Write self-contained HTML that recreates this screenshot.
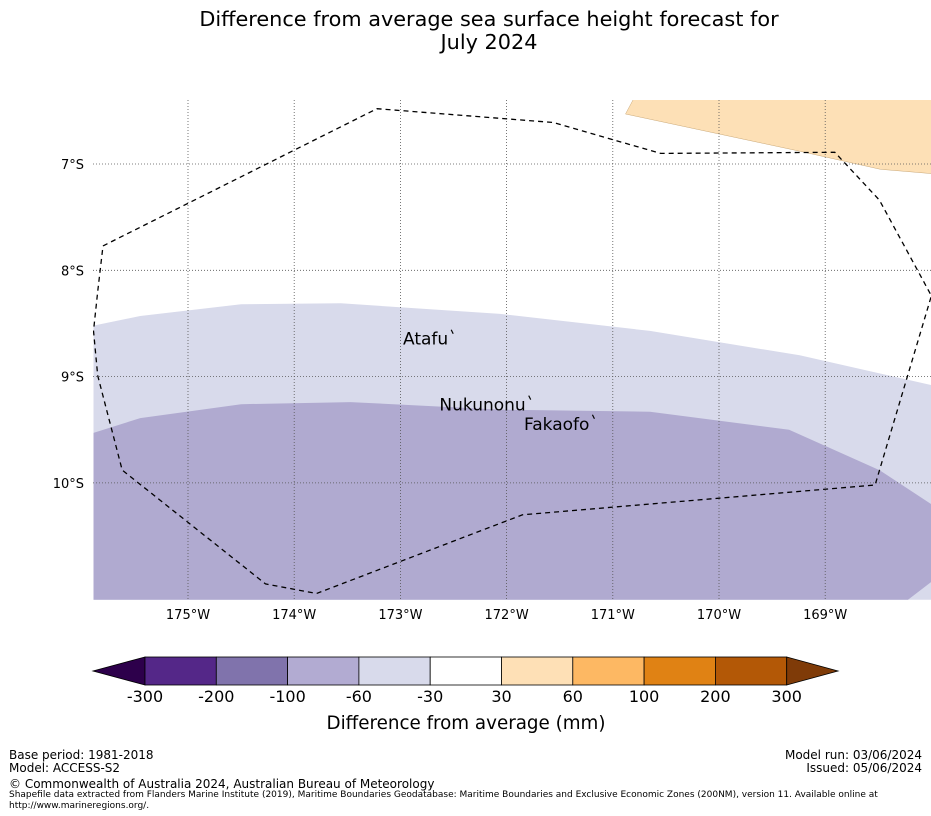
<!DOCTYPE html>
<html><head><meta charset="utf-8"><style>
body{margin:0;width:931px;height:816px;background:#fff;font-family:"Liberation Sans","DejaVu Sans",sans-serif;overflow:hidden;position:relative}
.t{position:absolute;white-space:nowrap;color:#000}
</style></head><body>
<div class="t" style="left:0;width:978px;top:8px;text-align:center;font-family:'DejaVu Sans',sans-serif;font-size:20.8px;line-height:23px">Difference from average sea surface height forecast for<br>July 2024</div>
<svg id="map" width="931" height="816" style="position:absolute;left:0;top:0" font-family="DejaVu Sans, sans-serif"></svg>
<div class="t" style="left:9px;top:748px;font-size:12px;font-family:'DejaVu Sans',sans-serif">Base period: 1981-2018</div>
<div class="t" style="left:9px;top:761px;font-size:12px;font-family:'DejaVu Sans',sans-serif">Model: ACCESS-S2</div>
<div class="t" style="right:9px;top:748px;font-size:12px;font-family:'DejaVu Sans',sans-serif;text-align:right">Model run: 03/06/2024</div>
<div class="t" style="right:9px;top:761px;font-size:12px;font-family:'DejaVu Sans',sans-serif;text-align:right">Issued: 05/06/2024</div>
<div class="t" style="left:9px;top:777px;font-size:12px;font-family:'DejaVu Sans',sans-serif">© Commonwealth of Australia 2024, Australian Bureau of Meteorology</div>
<div class="t" style="left:9px;top:790px;font-size:9px;line-height:11px;font-family:'DejaVu Sans',sans-serif">Shapefile data extracted from Flanders Marine Institute (2019), Maritime Boundaries Geodatabase: Maritime Boundaries and Exclusive Economic Zones (200NM), version 11. Available online at<br>http://www.marineregions.org/.</div>
<script>
const lonTicks=[-175,-174,-173,-172,-171,-170,-169];
const latTicks=[-7,-8,-9,-10];
const eezLon=[-175.8,-173.22,-171.56,-170.55,-168.91,-168.49,-168.0,-168.53,-171.85,-173.79,-174.27,-175.62,-175.85,-175.89,-175.85,-175.8];
const eezLat=[-7.77,-6.48,-6.61,-6.9,-6.89,-7.34,-8.24,-10.02,-10.3,-11.04,-10.95,-9.88,-8.99,-8.57,-8.2,-7.77];
const lightLon=[-175.89,-175.45,-174.5,-173.56,-172.06,-170.65,-169.24,-168.0,-168.0,-175.89];
const lightLat=[-8.52,-8.43,-8.32,-8.31,-8.41,-8.57,-8.8,-9.08,-11.1,-11.1];
const darkLon=[-175.89,-175.45,-174.5,-173.47,-172.06,-170.65,-169.34,-168.49,-168.0,-168.0,-168.22,-175.89];
const darkLat=[-9.53,-9.39,-9.26,-9.24,-9.31,-9.33,-9.5,-9.88,-10.2,-10.93,-11.1,-11.1];
const orangeLon=[-170.88,-170.8,-168.0,-168.0,-168.48,-169.24,-170.88];
const orangeLat=[-6.53,-6.38,-6.38,-7.09,-7.05,-6.88,-6.53];
const places=["Atafu","Nukunonu","Fakaofo"];
const placeLon=[-172.55,-171.82,-171.22];
const placeLat=[-8.70,-9.32,-9.50];
const cbLabels=["-300","-200","-100","-60","-30","30","60","100","200","300"];
const cbColors=["#542788","#8073ac","#b2abd2","#d8daeb","#ffffff","#fee0b6","#fdb863","#e08214","#b35806"];
const X=lon=>188+(lon+175)*106.2, Y=lat=>164+(-7-lat)*106.3;
const svg=document.getElementById('map'),NS="http://www.w3.org/2000/svg";
function mk(t,a,p){const e=document.createElementNS(NS,t);for(const k in a)e.setAttribute(k,a[k]);(p||svg).appendChild(e);return e;}
const pts=(lo,la)=>lo.map((v,i)=>X(v).toFixed(1)+","+Y(la[i]).toFixed(1)).join(" ");
const cp=mk('clipPath',{id:'c'});
mk('rect',{x:93,y:100,width:838,height:500},cp);
const g=mk('g',{'clip-path':'url(#c)'});
let e=mk('polygon',{points:pts(lightLon,lightLat),fill:'#d8daeb'},g);


e=mk('polygon',{points:pts(darkLon,darkLat),fill:'#b0aad0'},g);


e=mk('polygon',{points:pts(orangeLon,orangeLat),fill:'#fde0b6',stroke:'#c9a878','stroke-width':0.5},g);


lonTicks.forEach(l=>{const x=X(l);
 e=mk('line',{x1:x,x2:x,y1:100,y2:600,stroke:'#555','stroke-width':0.8,'stroke-dasharray':'1,2'},g);
 
 
 e=mk('text',{x:x,y:619,'text-anchor':'middle','font-size':13});e.textContent=Math.abs(l)+"°W";
 
 });
latTicks.forEach(l=>{const y=Y(l);
 e=mk('line',{x1:93,x2:931,y1:y,y2:y,stroke:'#555','stroke-width':0.8,'stroke-dasharray':'1,2'},g);
 
 
 e=mk('text',{x:84,y:y+5,'text-anchor':'end','font-size':13});e.textContent=Math.abs(l)+"°S";
 
 });
e=mk('polyline',{points:pts(eezLon,eezLat),fill:'none',stroke:'#000','stroke-width':1.3,'stroke-dasharray':'5,4'},g);


places.forEach((p,i)=>{const x=X(placeLon[i]),y=Y(placeLat[i]);
 e=mk('text',{x:x,y:y,'text-anchor':'end','font-size':17});e.textContent=p;
 
 
 mk('line',{x1:x+3,y1:y-15,x2:x+5,y2:y-11,stroke:'#000','stroke-width':1.2});});
const cx0=145,cw=71.3,cy=657,ch=28;
e=mk('polygon',{points:`${cx0},${cy} 93,${cy+ch/2} ${cx0},${cy+ch}`,fill:'#2d004b',stroke:'#000','stroke-width':0.8});


cbColors.forEach((c,i)=>{e=mk('rect',{x:cx0+i*cw,y:cy,width:cw,height:ch,fill:c,stroke:'#000','stroke-width':0.8});
 
 });
const ce=cx0+cbColors.length*cw;
e=mk('polygon',{points:`${ce},${cy} 838,${cy+ch/2} ${ce},${cy+ch}`,fill:'#7f3b08',stroke:'#000','stroke-width':0.8});


cbLabels.forEach((t,i)=>{e=mk('text',{x:cx0+i*cw,y:702,'text-anchor':'middle','font-size':16});e.textContent=t;
 
 });
e=mk('text',{x:466,y:729,'text-anchor':'middle','font-size':18.3});e.textContent="Difference from average (mm)";


</script>
</body></html>
